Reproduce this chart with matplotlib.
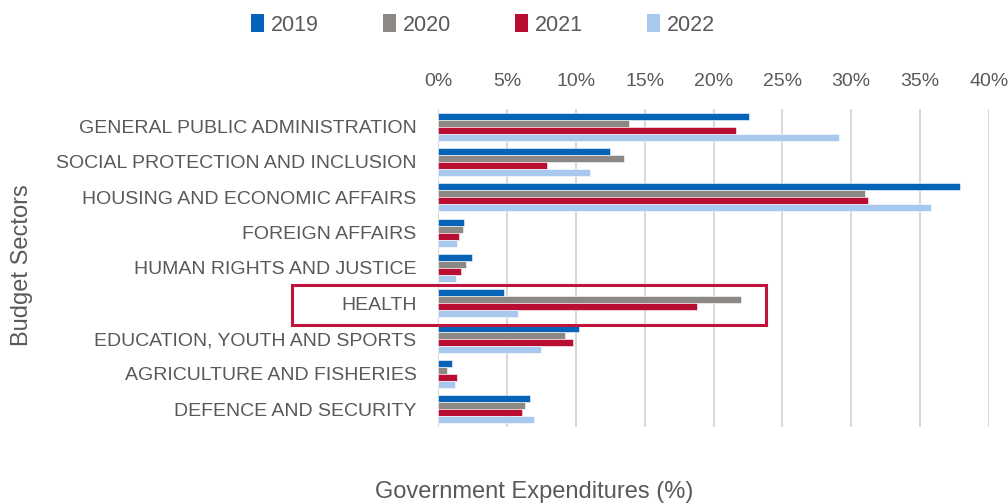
import numpy as np
import matplotlib
matplotlib.use('Agg')
import matplotlib.pyplot as plt
from matplotlib.patches import Patch, Rectangle

plt.rcParams['font.family'] = ['Liberation Sans', 'DejaVu Sans']

##-----------------------------------------
## Data
##-----------------------------------------
sectors = ['GENERAL PUBLIC ADMINISTRATION', 'SOCIAL PROTECTION AND INCLUSION',
           'HOUSING AND ECONOMIC AFFAIRS', 'FOREIGN AFFAIRS',
           'HUMAN RIGHTS AND JUSTICE', 'HEALTH', 'EDUCATION, YOUTH AND SPORTS',
           'AGRICULTURE AND FISHERIES', 'DEFENCE AND SECURITY']
years = ['2019', '2020', '2021', '2022']
v2019 = [22.6, 12.5, 37.9, 1.9, 2.5, 4.8, 10.2, 1.0, 6.7]
v2020 = [13.9, 13.5, 31.0, 1.8, 2.0, 22.0, 9.2, 0.65, 6.3]
v2021 = [21.6, 7.9, 31.2, 1.5, 1.7, 18.8, 9.8, 1.4, 6.1]
v2022 = [29.1, 11.0, 35.8, 1.4, 1.3, 5.8, 7.5, 1.2, 7.0]
colours = ['#0563B8', '#8C8883', '#B90E32', '#A9C8EE']
highlight = 'HEALTH'

text_grey = '#595959'

##-----------------------------------------
## Plot
##-----------------------------------------
fig = plt.figure(figsize=(10.08, 5.04), dpi=100)
ax = fig.add_axes([438/1008, 1-427/504, (989-438)/1008, (427-109)/504])

y = np.arange(len(sectors))
h = 0.2
for i, (vals, c) in enumerate(zip([v2019, v2020, v2021, v2022], colours)):
    ax.barh(y + (i - 1.5)*h, vals, height=h, color=c, edgecolor='white',
            linewidth=0.4, zorder=3)

ax.set_xlim(0, 40)
ax.set_ylim(len(sectors) - 0.5, -0.5)
ax.set_xticks(np.arange(0, 41, 5))
ax.set_xticklabels([f'{t}%' for t in range(0, 41, 5)])
ax.xaxis.tick_top()
ax.tick_params(axis='x', length=0, pad=14, labelsize=14, labelcolor=text_grey)
ax.set_yticks(y)
ax.set_yticklabels(sectors)
ax.tick_params(axis='y', length=0, pad=15.5, labelsize=14, labelcolor=text_grey)
ax.grid(axis='x', color='#D9D9D9', linewidth=1.5, zorder=0)
for s in ax.spines.values():
    s.set_visible(False)

# box round the highlighted sector
k = sectors.index(highlight)
ax.add_patch(Rectangle((-10.6, k - 0.51), 34.4, 1.11, fill=False,
                       edgecolor='#C0143C', linewidth=2.2, clip_on=False, zorder=5))

fig.text(22/1008, 1-265/504, 'Budget Sectors', rotation=90, ha='center',
         va='center', fontsize=17, color=text_grey)
fig.text(534/1008, 1-492/504, 'Government Expenditures (%)', ha='center',
         va='center', fontsize=17, color=text_grey)

handles = [Patch(facecolor=c, edgecolor='none') for c in colours]
fig.legend(handles, years, loc='center', bbox_to_anchor=(483/1008, 1-25/504),
           ncol=4, frameon=False, fontsize=15.5, handlelength=0.6, handleheight=0.9,
           handletextpad=0.3, columnspacing=3.0, labelcolor=text_grey)

plt.savefig('out.png', dpi=100)
plt.close()
